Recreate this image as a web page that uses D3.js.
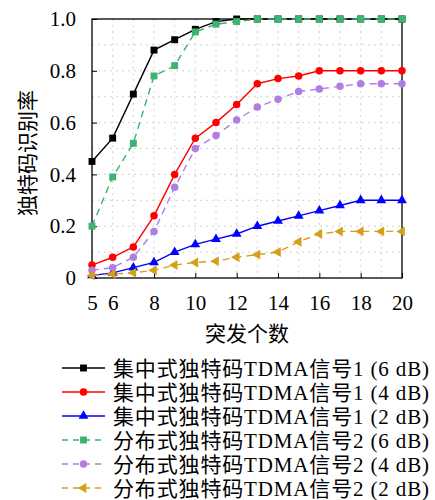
<!DOCTYPE html>
<html>
<head>
<meta charset="utf-8">
<script src="https://cdn.jsdelivr.net/npm/d3@7"></script>
<style>
    body { margin: 0; background: #fff; }
    text { fill: #000; }
</style>
</head>
<body>
<div id="chart"></div>
<script>
// burst size on the x axis
const bursts = [5, 6, 7, 8, 9, 10, 11, 12, 13, 14, 15, 16, 17, 18, 19, 20];

// centralized unique word, signal 1
const central6dB = [0.45, 0.54, 0.71, 0.88, 0.92, 0.96, 0.99, 1.0, 1.0, 1.0, 1.0, 1.0, 1.0, 1.0, 1.0, 1.0];
const central4dB = [0.05, 0.08, 0.12, 0.24, 0.40, 0.54, 0.60, 0.67, 0.75, 0.77, 0.78, 0.80, 0.80, 0.80, 0.80, 0.80];
const central2dB = [0.01, 0.02, 0.04, 0.06, 0.10, 0.13, 0.15, 0.17, 0.20, 0.22, 0.24, 0.26, 0.28, 0.30, 0.30, 0.30];

// distributed unique word, signal 2
const distrib6dB = [0.20, 0.39, 0.52, 0.78, 0.82, 0.95, 0.98, 0.99, 1.0, 1.0, 1.0, 1.0, 1.0, 1.0, 1.0, 1.0];
const distrib4dB = [0.03, 0.04, 0.08, 0.18, 0.35, 0.50, 0.55, 0.61, 0.66, 0.69, 0.72, 0.73, 0.74, 0.75, 0.75, 0.75];
const distrib2dB = [0.01, 0.015, 0.02, 0.03, 0.05, 0.06, 0.065, 0.08, 0.09, 0.10, 0.14, 0.17, 0.18, 0.18, 0.18, 0.18];

const xTicks = [5, 6, 8, 10, 12, 14, 16, 18, 20];
const yTicks = [0, 0.2, 0.4, 0.6, 0.8, 1.0];
const yTickLabels = ["0", "0.2", "0.4", "0.6", "0.8", "1.0"];

const seriesNames = [
    "集中式独特码TDMA信号1 (6 dB)",
    "集中式独特码TDMA信号1 (4 dB)",
    "集中式独特码TDMA信号1 (2 dB)",
    "分布式独特码TDMA信号2 (6 dB)",
    "分布式独特码TDMA信号2 (4 dB)",
    "分布式独特码TDMA信号2 (2 dB)"
];

const xLabel = "突发个数";
const yLabel = "独特码识别率";

const series = [
    { name: seriesNames[0], values: central6dB, color: "#000000", symbol: "square", dashed: false },
    { name: seriesNames[1], values: central4dB, color: "#ff0000", symbol: "circle", dashed: false },
    { name: seriesNames[2], values: central2dB, color: "#0000ff", symbol: "triangle", dashed: false },
    { name: seriesNames[3], values: distrib6dB, color: "#3cb371", symbol: "square", dashed: true },
    { name: seriesNames[4], values: distrib4dB, color: "#b07ee0", symbol: "circle", dashed: true },
    { name: seriesNames[5], values: distrib2dB, color: "#d4a017", symbol: "triangleLeft", dashed: true }
];

const width = 435, height = 500;
const margin = { left: 92, right: 33, top: 19, bottom: 222 };
const plotW = width - margin.left - margin.right;
const plotH = height - margin.top - margin.bottom;
const serif = "Liberation Serif, DejaVu Serif, Noto Sans CJK SC, serif";

const svg = d3.select("#chart").append("svg")
    .attr("width", width)
    .attr("height", height);

const x = d3.scaleLinear().domain([5, 20]).range([0, plotW]);
const y = d3.scaleLinear().domain([0, 1]).range([plotH, 0]);

const g = svg.append("g").attr("transform", `translate(${margin.left},${margin.top})`);

// dotted grid, one line per integer burst and per 0.1
const grid = g.append("g")
    .attr("stroke", "#c8c8c8")
    .attr("stroke-width", 0.8)
    .attr("stroke-dasharray", "2,4");
grid.selectAll("line.v").data(d3.range(6, 20)).join("line")
    .attr("class", "v")
    .attr("x1", d => x(d)).attr("x2", d => x(d))
    .attr("y1", 0).attr("y2", plotH);
grid.selectAll("line.h").data(d3.range(1, 10).map(d => d / 10)).join("line")
    .attr("class", "h")
    .attr("x1", 0).attr("x2", plotW)
    .attr("y1", d => y(d)).attr("y2", d => y(d));

// axes with inward ticks
const xAxis = g.append("g")
    .attr("transform", `translate(0,${plotH})`)
    .call(d3.axisBottom(x).tickValues(xTicks).tickSizeInner(-5).tickSizeOuter(0).tickPadding(17));
const yAxis = g.append("g")
    .call(d3.axisLeft(y).tickValues(yTicks).tickFormat((d, i) => yTickLabels[i])
        .tickSizeInner(-5).tickSizeOuter(0).tickPadding(16));
[xAxis, yAxis].forEach(a => {
    a.attr("font-family", null).attr("font-size", null);
    a.select(".domain").remove();
    a.selectAll("line").attr("stroke", "#000");
    a.selectAll("text").style("font-family", serif).style("font-size", "21px");
});

// frame
g.append("rect")
    .attr("width", plotW).attr("height", plotH)
    .attr("fill", "none").attr("stroke", "#000").attr("stroke-width", 1.3);

function symbolPath(kind) {
    if (kind === "square") return d3.symbol(d3.symbolSquare, 48)();
    if (kind === "circle") return d3.symbol(d3.symbolCircle, 44)();
    return d3.symbol(d3.symbolTriangle, 42)();
}

function drawMarker(sel, s) {
    sel.append("path")
        .attr("d", symbolPath(s.symbol))
        .attr("transform", s.symbol === "triangleLeft" ? "rotate(-90)" : null)
        .attr("fill", s.color);
}

const line = d3.line()
    .x((d, i) => x(bursts[i]))
    .y(d => y(d));

series.forEach(s => {
    g.append("path")
        .datum(s.values)
        .attr("fill", "none")
        .attr("stroke", s.color)
        .attr("stroke-width", 1.4)
        .attr("stroke-dasharray", s.dashed ? "7,5" : null)
        .attr("d", line);
    g.selectAll(null).data(s.values).join("g")
        .attr("transform", (d, i) => `translate(${x(bursts[i])},${y(d)})`)
        .each(function () { drawMarker(d3.select(this), s); });
});

// axis titles
svg.append("text")
    .attr("x", margin.left + plotW / 2)
    .attr("y", 341)
    .attr("text-anchor", "middle")
    .style("font-family", serif)
    .style("font-size", "21px")
    .text(xLabel);
svg.append("text")
    .attr("transform", `translate(35,153) rotate(-90)`)
    .attr("text-anchor", "middle")
    .style("font-family", serif)
    .style("font-size", "21px")
    .text(yLabel);

// legend
const legend = svg.append("g").attr("transform", "translate(62,368)");
series.forEach((s, i) => {
    const row = legend.append("g").attr("transform", `translate(0,${i * 24})`);
    row.append("line")
        .attr("x1", 0).attr("x2", 43)
        .attr("stroke", s.color).attr("stroke-width", 1.4)
        .attr("stroke-dasharray", s.dashed ? "6,5" : null);
    drawMarker(row.append("g").attr("transform", "translate(21.5,0)"), s);
    row.append("text")
        .attr("x", 51)
        .attr("dy", "0.36em")
        .attr("textLength", 316)
        .attr("lengthAdjust", "spacing")
        .style("font-family", serif)
        .style("font-size", "21px")
        .text(s.name);
});
</script>
</body>
</html>
